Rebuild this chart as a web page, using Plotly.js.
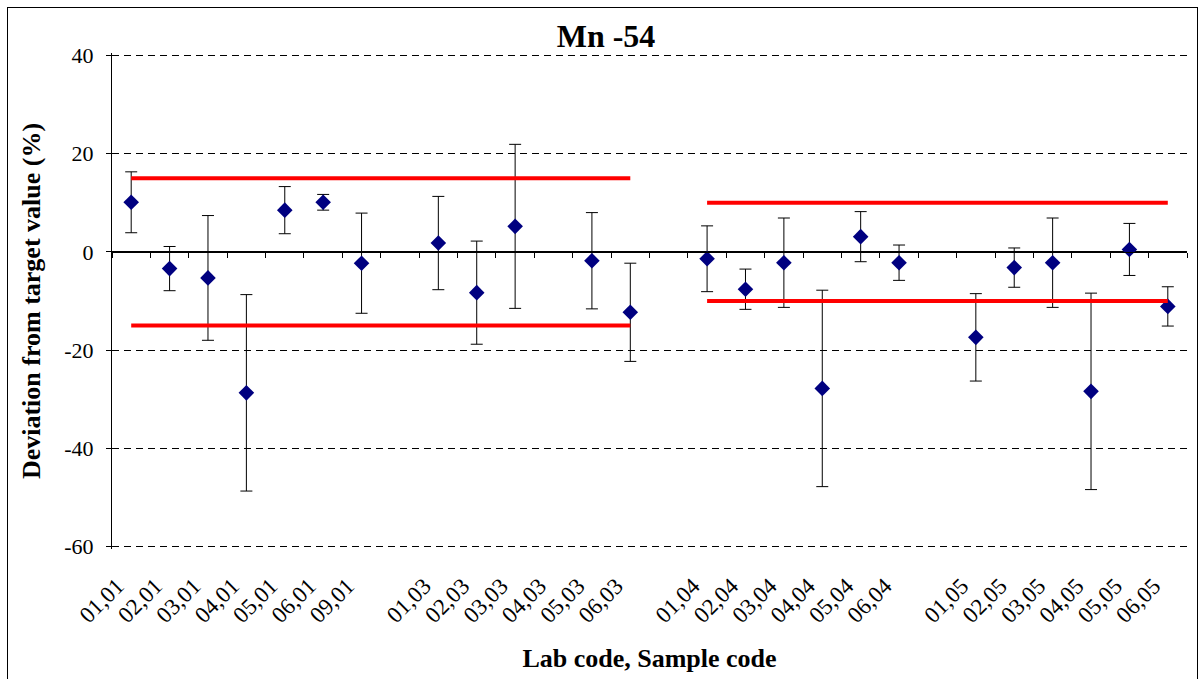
<!DOCTYPE html>
<html>
<head>
<meta charset="utf-8">
<script src="https://cdn.plot.ly/plotly-3.0.1.min.js"></script>
<style>
  html, body { margin: 0; padding: 0; background: #fff; }
  #chart { width: 1200px; height: 679px; }
  #frame { position: absolute; left: 7px; top: 7px; width: 1189px; height: 690px; border: 1px solid #000; pointer-events: none; }
</style>
</head>
<body>
<div id="chart"></div>
<div id="frame"></div>
<script>
// Categories ('' = empty gap slot between sample groups)
const categories = ['01,01','02,01','03,01','04,01','05,01','06,01','09,01','',
                    '01,03','02,03','03,03','04,03','05,03','06,03','',
                    '01,04','02,04','03,04','04,04','05,04','06,04','',
                    '01,05','02,05','03,05','04,05','05,05','06,05'];
// Deviation from target value (%)
const deviation = [10.1,-3.4,-5.3,-28.7,8.5,10.1,-2.3,null,
                   1.8,-8.3,5.2,null,-1.8,-12.3,null,
                   -1.4,-7.6,-2.2,-27.8,3.1,-2.2,null,
                   -17.4,-3.2,-2.2,-28.4,0.5,-11.1];
// Uncertainty (error bar half-length, %)
const uncertainty = [6.2,4.5,12.7,20.0,4.8,1.6,10.2,null,
                     9.5,10.5,16.7,null,9.8,10.0,null,
                     6.7,4.1,9.1,20.0,5.1,3.6,null,
                     8.9,4.0,9.1,20.0,5.3,4.0];
// Acceptance limits per sample group
const limitStart = ['01,01','01,04'];
const limitEnd   = ['06,03','06,05'];
const limitValue = [15, 10];
const yTicks = [-60,-40,-20,0,20,40];
const yTickText = ['-60','-40','-20','0','20','40'];

const idx = categories.map((c, i) => i);
const labelIdx = idx.filter(i => categories[i] !== '');
const boundaries = categories.map((c, i) => i - 0.5).concat([categories.length - 0.5]);

const limX = [], limY = [];
limitValue.forEach((v, k) => {
  const a = categories.indexOf(limitStart[k]);
  const b = categories.indexOf(limitEnd[k]);
  limX.push(a, b, null, a, b, null);
  limY.push(v, v, null, -v, -v, null);
});

const font = 'Liberation Serif';
const xr = [-0.5, categories.length - 0.5];

const traces = [
  {
    type: 'scatter', mode: 'lines', x: limX, y: limY,
    xaxis: 'x2', yaxis: 'y',
    line: {color: '#ff0000', width: 4},
    hoverinfo: 'skip', showlegend: false, connectgaps: false
  },
  {
    type: 'scatter', mode: 'markers', x: idx, y: deviation,
    xaxis: 'x', yaxis: 'y',
    marker: {symbol: 'diamond', size: 12, color: '#000080'},
    error_y: {type: 'data', array: uncertainty, visible: true, color: '#000', thickness: 1, width: 6},
    showlegend: false
  }
];

const layout = {
  width: 1200, height: 679,
  margin: {l: 112, r: 13, t: 52.5, b: 129.5},
  paper_bgcolor: '#fff', plot_bgcolor: '#fff',
  font: {family: font, color: '#000', size: 20},
  title: {
    text: '<b>Mn -54</b>', font: {family: font, size: 32, color: '#000'},
    x: 0.505, xanchor: 'center', xref: 'container',
    y: 1 - 36/679, yanchor: 'middle', yref: 'container'
  },
  xaxis: {
    type: 'linear', range: xr,
    tickmode: 'array', tickvals: labelIdx, ticktext: labelIdx.map(i => categories[i]),
    tickangle: -45, ticks: '', showline: false, showgrid: false, zeroline: false,
    tickfont: {family: font, size: 23, color: '#000'},
    ticklabelstandoff: 18, ticklabelshift: -14,
    title: {text: '<b>Lab code, Sample code</b>', font: {family: font, size: 26, color: '#000'}, standoff: 22}
  },
  xaxis2: {
    type: 'linear', range: xr, overlaying: 'x', anchor: 'free', position: 0.6 * 100 / 101 + 0.5 / 101,
    tickmode: 'array', tickvals: boundaries, showticklabels: false,
    ticks: 'outside', ticklen: 5, tickcolor: '#000', tickwidth: 1,
    showline: true, linecolor: '#000', linewidth: 1,
    showgrid: false, zeroline: false
  },
  yaxis: {
    range: [-60.5, 40.5], tickmode: 'array', tickvals: yTicks, ticktext: yTickText,
    ticks: 'outside', ticklen: 5, tickcolor: '#000',
    showline: true, linecolor: '#000', linewidth: 1,
    showgrid: true, gridcolor: '#000', gridwidth: 1, griddash: '7px,5px',
    zeroline: true, zerolinecolor: '#000', zerolinewidth: 1,
    tickfont: {family: font, size: 22, color: '#000'},
    ticklabelstandoff: 8,
    title: {text: '<b>Deviation from target value (%)</b>', font: {family: font, size: 26, color: '#000'}, standoff: 16}
  }
};

Plotly.newPlot('chart', traces, layout, {displayModeBar: false, staticPlot: true});
</script>
</body>
</html>
